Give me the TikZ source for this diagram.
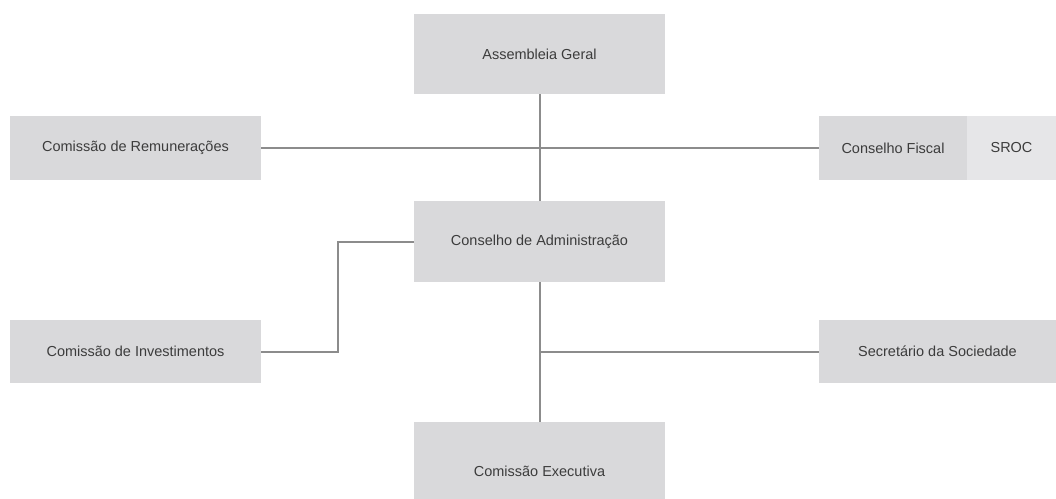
\documentclass[tikz,border=0pt]{standalone}
\usepackage{fontspec}
\setmainfont{Liberation Sans}
\usepackage{tikz}

\definecolor{boxgray}{HTML}{D9D9DB}
\definecolor{boxlight}{HTML}{E6E6E8}
\definecolor{wiregray}{HTML}{8C8C8C}
\definecolor{textgray}{HTML}{3C3C3C}

\tikzset{
	orgbox/.style={shape=rectangle, fill=boxgray, inner sep=0pt,
		text=textgray, font=\fontsize{10.3}{12}\selectfont},
	wire/.style={draw=wiregray, line width=0.5mm}
}

\begin{document}
\begin{tikzpicture}[x=0.25mm, y=-0.25mm]
	\useasboundingbox (0, 0) rectangle (1056, 498);
	% Boxes of the central column:
	\node[orgbox, minimum width=62.75mm, minimum height=20mm]
	(AG) at (539.5, 54){Assembleia Geral};
	\node[orgbox, minimum width=62.75mm, minimum height=20.25mm]
	(CA) at (539.5, 241.5){Conselho de Administração};
	\node[orgbox, minimum width=62.75mm, minimum height=24.5mm]
	(CE) at (539.5, 471){Comissão Executiva};
	
	% Side boxes, left:
	\node[orgbox, minimum width=62.75mm, minimum height=16mm]
	(CR) at (135.5, 148){Comissão de Remunerações};
	\node[orgbox, minimum width=62.75mm, minimum height=15.75mm]
	(CI) at (135.5, 351.5){Comissão de Investimentos};
	
	% Side boxes, right (SROC sits against Conselho Fiscal)
	\node[orgbox, minimum width=37mm, minimum height=16mm]
	(CF) at (893, 148){Conselho Fiscal};
	\node[orgbox, fill=boxlight, minimum width=22.25mm, minimum height=16mm]
	(SROC) at (1011.5, 148){SROC};
	\node[orgbox, minimum width=59.25mm, minimum height=15.75mm]
	(SS) at (937.5, 351.5){Secretário da Sociedade};
	
	% Wires:
	\draw[wire] (AG) -- (CA);
	\draw[wire] (CR) -- (CF);
	\draw[wire] (CA) -- (CE);
	\draw[wire] (CA.west) -- ++(-76, 0) |- (CI.east);
	\draw[wire] (SS.west) -- (SS.west -| CA.south);
\end{tikzpicture}
\end{document}
